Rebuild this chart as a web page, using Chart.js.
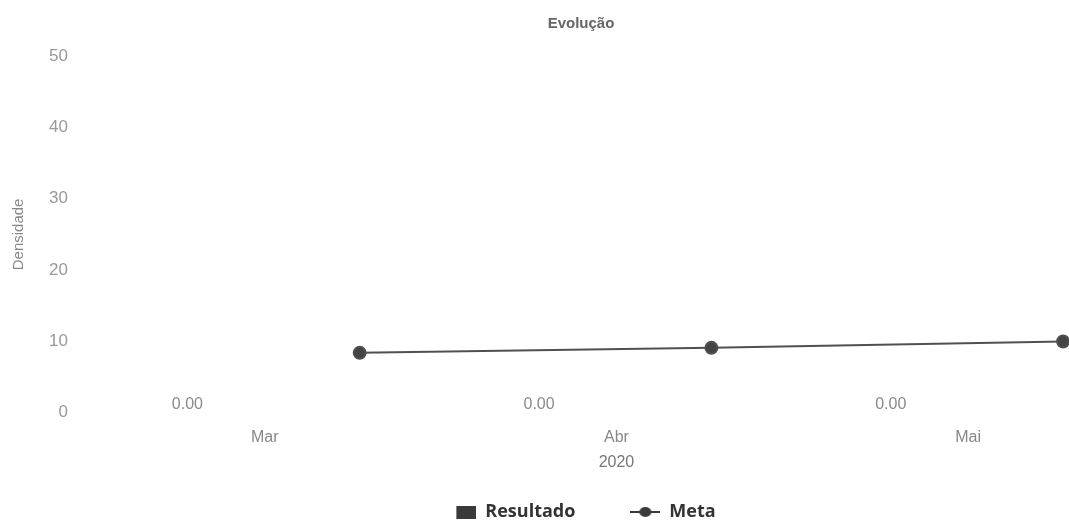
<!DOCTYPE html>
<html><head><meta charset="utf-8">
<script src="https://cdn.jsdelivr.net/npm/chart.js@4/dist/chart.umd.min.js"></script>
<style>html,body{margin:0;padding:0;background:#fff;overflow:hidden}#view{width:1069px;height:522px;overflow:hidden;position:relative}#wrap{width:1152px;height:531px;position:absolute;left:0;top:0}</style>
</head><body><div id="view"><div id="wrap"><canvas id="c"></canvas></div></div>
<script>
const categories = ['Mar', 'Abr', 'Mai'];
const resultado = [0, 0, 0];
const meta = [8.4, 9.1, 10];
const yTicks = [0, 10, 20, 30, 40, 50];
const chartTitle = 'Evolução';
const yTitle = 'Densidade';
const xTitle = '2020';

const LINE_SHIFT = 0.27, LABEL_SHIFT = -0.22;
const FONT = '"Liberation Sans", Arial, sans-serif';

function makeIcon(kind){
  const cv = document.createElement('canvas');
  cv.width = 30;
  const g = cv.getContext('2d');
  if(kind==='bar'){ cv.height=13; g.fillStyle='#3a3a3a'; g.fillRect(10,0,20,13); }
  else { cv.height=12; g.strokeStyle='#3a3a3a'; g.lineWidth=2; g.beginPath(); g.moveTo(0,6); g.lineTo(30,6); g.stroke(); g.fillStyle='#3a3a3a'; g.beginPath(); g.ellipse(15,6,6,5,0,0,Math.PI*2); g.fill(); }
  return cv;
}
const icons = [makeIcon('bar'), makeIcon('line')];

const labelPlugin = {
  id:'vals',
  afterDatasetsDraw(chart){
    const {ctx, scales:{x,y}} = chart;
    ctx.save(); ctx.font='16px ' + FONT; ctx.fillStyle='#8a8a8a';
    ctx.textAlign='center'; ctx.textBaseline='middle';
    resultado.forEach((v,i)=>{ ctx.fillText(v.toFixed(2), x.getPixelForValue(i+LABEL_SHIFT), y.getPixelForValue(v)-8); });
    ctx.restore();
  }
};

new Chart(document.getElementById('c'), {
  data: {
    datasets: [
      { type:'bar', label:'Resultado', data: resultado.map((v,i)=>({x:i+LABEL_SHIFT, y:v})), backgroundColor:'rgba(58,58,58,0)', barThickness:60 },
      { type:'line', label:'Meta', data: meta.map((v,i)=>({x:i+LINE_SHIFT, y:v})), borderColor:'#505050', backgroundColor:'#444', borderWidth:2, pointRadius:6, pointHoverRadius:6, clip:false, tension:0 }
    ]
  },
  options: {
    responsive:true, maintainAspectRatio:false, animation:false,
    layout:{ padding:{ left:10, right:0, top:0, bottom:0 } },
    plugins:{
      title:{ display:true, text:chartTitle, color:'#666', font:{ family:FONT, size:15, weight:'bold' }, padding:{ top:15, bottom:23 } },
      legend:{ position:'bottom', labels:{ usePointStyle:true, pointStyleWidth:30, color:'#333', padding:55, font:{ family:'"Open Sans", sans-serif', size:18, weight:'bold' },
        generateLabels(chart){ return chart.data.datasets.map((d,i)=>({ text:d.label, pointStyle:icons[i], datasetIndex:i, hidden:false, fontColor:'#333', lineWidth:0 })); } } },
      tooltip:{ enabled:false }
    },
    scales:{
      x:{ type:'linear', min:-0.5, max:2.5, offset:false, grid:{ display:false, drawTicks:false }, border:{ display:false },
        afterBuildTicks(s){ s.ticks = categories.map((c,i)=>({value:i})); },
        ticks:{ callback:(v)=>categories[v], color:'#888', padding:15, maxRotation:0, minRotation:0, font:{ family:FONT, size:16 } },
        title:{ display:true, text:xTitle, color:'#777', padding:{top:-8.6, bottom:-24.6}, font:{ family:FONT, size:16 } } },
      y:{ min:0, max:50, grid:{ display:false, drawTicks:false }, border:{ display:false },
        afterBuildTicks(s){ s.ticks = yTicks.map(v=>({value:v})); },
        ticks:{ color:'#999', padding:21, font:{ family:FONT, size:17 } },
        title:{ display:true, text:yTitle, color:'#888', padding:{top:0, bottom:0}, font:{ family:FONT, size:15 } } }
    }
  },
  plugins:[labelPlugin]
});
</script></body></html>
